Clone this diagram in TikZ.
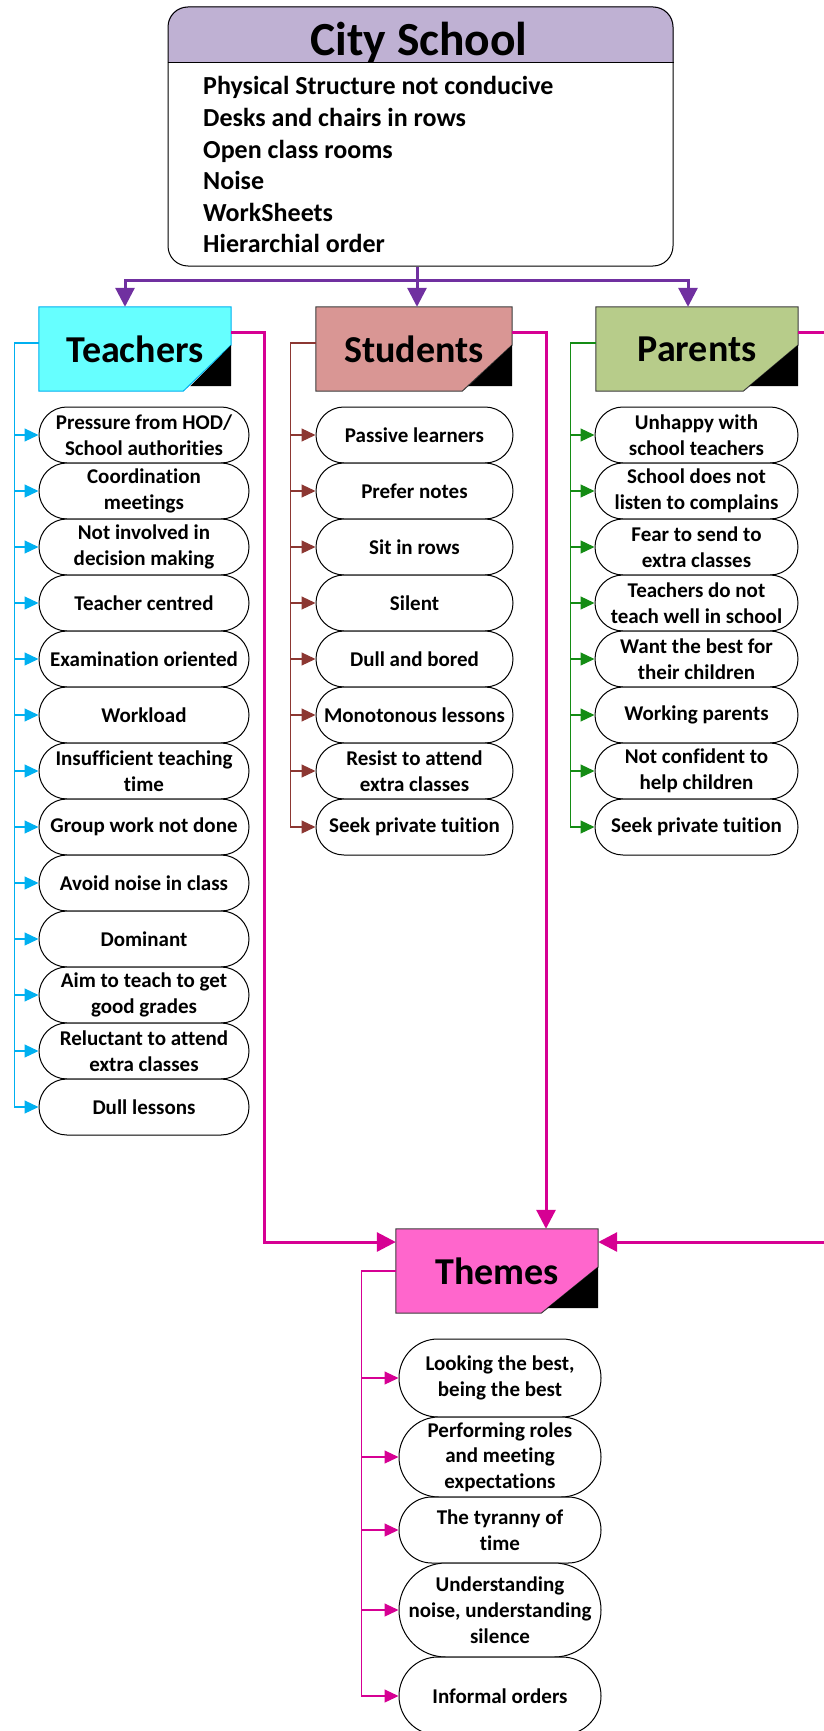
\documentclass[tikz,border=0pt]{standalone}
\usepackage{fontspec}
\setmainfont{Carlito}[Ligatures=NoCommon]
\usetikzlibrary{arrows.meta}

\definecolor{schoolhead}{RGB}{191,177,211}
\definecolor{teachfill}{RGB}{102,255,255}
\definecolor{teachline}{RGB}{0,176,240}
\definecolor{studfill}{RGB}{217,150,148}
\definecolor{studline}{RGB}{140,55,50}
\definecolor{parfill}{RGB}{183,204,138}
\definecolor{parline}{RGB}{20,140,20}
\definecolor{themefill}{RGB}{255,102,204}
\definecolor{themeline}{RGB}{214,0,147}
\definecolor{forkline}{RGB}{112,48,160}
\definecolor{cardedge}{RGB}{60,60,60}

\newcommand{\schooltitlefont}{\fontsize{47.5}{56}\selectfont\bfseries}
\newcommand{\schoollistfont}{\fontsize{26}{31.6}\selectfont\bfseries}
\newcommand{\cardfont}{\fontsize{38}{44}\selectfont\bfseries}
\newcommand{\pillfont}{\fontsize{21}{25.7}\selectfont\bfseries}

% Card with cut corner and black fold
\newcommand{\cardshape}[5]{%
  \filldraw[fill=#2, draw=#3, line width=1pt] (#1.north west) -- (#1.north east) -- ([yshift=4pt]#1.east) -- ([xshift=-#4pt]#1.south east) -- (#1.south west) -- cycle;
  \fill[black] ([yshift=4pt]#1.east) -- ([yshift=5pt]#1.south east) -- ([xshift=-#5pt,yshift=5pt]#1.south east) -- cycle;
}

\pgfdeclarelayer{background}
\pgfsetlayers{background,main}

\tikzset{
  card/.style={minimum height=84pt, inner sep=0pt, font=\cardfont},
  pill/.style={rectangle, draw=black, line width=1pt, fill=white, inner sep=0pt, align=center, font=\pillfont, minimum height=#1pt, rounded corners={(#1/2-0.1)*1pt}},
  pill/.default=56,
  teachitem/.style={pill, minimum width=210pt},
  studitem/.style={pill, minimum width=197pt},
  paritem/.style={pill, minimum width=203pt},
  themeitem/.style={pill=#1, minimum width=202pt},
  thinarrow/.style={line width=1.2pt, draw=#1, -{Triangle[length=14pt,width=13pt,fill=#1]}},
  thickarrow/.style={line width=3pt, draw=#1, -{Triangle[length=19pt,width=19pt,fill=#1]}},
}

\begin{document}
\begin{tikzpicture}[x=1pt, y=-1pt]
			% Frame
			\useasboundingbox (0,0) rectangle (824,1731);
			\clip (0,0) rectangle (824,1731);
			
			% City School
			\node[draw, line width=1pt, rounded corners=20pt, minimum width=505pt, minimum height=259pt, inner sep=0pt] (school) at (420.5,136.5) {};
			\draw[line width=1pt] ([yshift=-56pt]school.north west) -- ([yshift=-56pt]school.north east);
			\node[anchor=base, font=\schooltitlefont] (schooltitle) at (419,56) {City School};
			\node[anchor=north west, align=left, inner sep=0pt, font=\schoollistfont] (schoollist) at (203,76.5) {Physical Structure not conducive\\Desks and chairs in rows\\Open class rooms\\Noise\\WorkSheets\\Hierarchial order};
			
			% Cards
			\node[card] (teach) at (135,349) [minimum width=192pt] {Teachers};
			\node[card] (stud) at (414,349) [minimum width=196pt] {Students};
			\node[card] (par) at (697,349) [minimum width=202pt] {Parents};
			\node[card] (themes) at (497,1271) [minimum width=202pt] {Themes};
			
			% Teachers
			\node[teachitem] (t1) at (144,435) {Pressure from HOD/\\School authorities};
			\node[teachitem] (t2) at (144,491) {Coordination\\meetings};
			\node[teachitem] (t3) at (144,547) {Not involved in\\decision making};
			\node[teachitem] (t4) at (144,603) {Teacher centred};
			\node[teachitem] (t5) at (144,659) {Examination oriented};
			\node[teachitem] (t6) at (144,715) {Workload};
			\node[teachitem] (t7) at (144,771) {Insufficient teaching\\time};
			\node[teachitem] (t8) at (144,827) {Group work not done};
			\node[teachitem] (t9) at (144,883) {Avoid noise in class};
			\node[teachitem] (t10) at (144,939) {Dominant};
			\node[teachitem] (t11) at (144,995) {Aim to teach to get\\good grades};
			\node[teachitem] (t12) at (144,1051) {Reluctant to attend\\extra classes};
			\node[teachitem] (t13) at (144,1107) {Dull lessons};
			
			% Students
			\node[studitem] (s1) at (414.5,435) {Passive learners};
			\node[studitem] (s2) at (414.5,491) {Prefer notes};
			\node[studitem] (s3) at (414.5,547) {Sit in rows};
			\node[studitem] (s4) at (414.5,603) {Silent};
			\node[studitem] (s5) at (414.5,659) {Dull and bored};
			\node[studitem] (s6) at (414.5,715) {Monotonous lessons};
			\node[studitem] (s7) at (414.5,771) {Resist to attend\\extra classes};
			\node[studitem] (s8) at (414.5,827) {Seek private tuition};
			
			% Parents
			\node[paritem] (p1) at (696.5,435) {Unhappy with\\school teachers};
			\node[paritem] (p2) at (696.5,491) {School does not\\listen to complains};
			\node[paritem] (p3) at (696.5,547) {Fear to send to\\extra classes};
			\node[paritem] (p4) at (696.5,603) {Teachers do not\\teach well in school};
			\node[paritem] (p5) at (696.5,659) {Want the best for\\their children};
			\node[paritem] (p6) at (696.5,715) {Working parents};
			\node[paritem] (p7) at (696.5,771) {Not confident to\\help children};
			\node[paritem] (p8) at (696.5,827) {Seek private tuition};
			
			% Themes
			\node[themeitem=78] (th1) at (500,1378) {Looking the best,\\being the best};
			\node[themeitem=80] (th2) at (500,1457) {Performing roles\\and meeting\\expectations};
			\node[themeitem=66] (th3) at (500,1530) {The tyranny of\\time};
			\node[themeitem=94] (th4) at (500,1610) {Understanding\\noise, understanding\\silence};
			\node[themeitem=78] (th5) at (500,1696) {Informal orders};
			
			% Card backgrounds
			\begin{pgfonlayer}{background}
				\begin{scope}
					\clip[rounded corners=20pt] (school.north west) rectangle (school.south east);
					\fill[schoolhead] (school.north west) rectangle ([yshift=-56pt]school.north east);
				\end{scope}
				\cardshape{teach}{teachfill}{teachline}{48}{41}
				\cardshape{stud}{studfill}{cardedge}{50}{44}
				\cardshape{par}{parfill}{cardedge}{55}{49}
				\cardshape{themes}{themefill}{cardedge}{57}{51}
			\end{pgfonlayer}
			
			% Fork from City School
			\coordinate (fork) at (417,280);
			\draw[line width=3pt, forkline] (school.south -| fork) -- (fork);
			\draw[thickarrow=forkline] (fork) -| ([xshift=-10pt]teach.north);
			\draw[thickarrow=forkline] (fork) -- (fork |- stud.north);
			\draw[thickarrow=forkline] (fork) -| ([xshift=-9pt]par.north);
			
			% Links into Themes
			\draw[thickarrow=themeline] ([yshift=17pt]teach.east) -- ++(33,0) |- ([yshift=29pt]themes.west);
			\draw[thickarrow=themeline] ([yshift=17pt]stud.east) -| ([xshift=49pt]themes.north);
			\draw[thickarrow=themeline] ([yshift=17pt]par.east) -- ++(40,0) |- ([yshift=29pt]themes.east);
			
			% Branches
			\foreach \i in {1,...,13}
				\draw[thinarrow=teachline] ([yshift=6pt]teach.west) -- ++(-24,0) |- (t\i.west);
			\foreach \i in {1,...,8}
				\draw[thinarrow=studline] ([yshift=6pt]stud.west) -- ++(-25,0) |- (s\i.west);
			\foreach \i in {1,...,8}
				\draw[thinarrow=parline] ([yshift=6pt]par.west) -- ++(-25,0) |- (p\i.west);
			\foreach \i in {1,...,5}
				\draw[thinarrow=themeline] (themes.west) -- ++(-34,0) |- (th\i.west);
		\end{tikzpicture}
\end{document}
